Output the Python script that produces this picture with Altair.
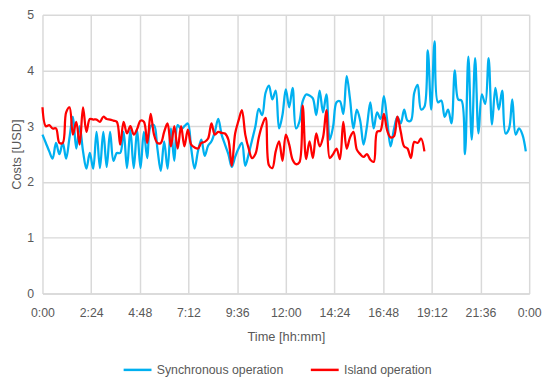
import altair as alt
import pandas as pd

# 10-minute samples, costs in USD
sync_costs = [
    2.85, 2.70, 2.55, 2.42, 2.70, 2.50, 2.70, 2.42, 2.80, 3.17,
    2.60, 3.00, 2.55, 2.24, 2.52, 2.24, 2.90, 2.25, 2.90, 2.27,
    2.90, 2.38, 2.52, 2.52, 2.90, 2.25, 2.93, 2.25, 2.93, 2.25,
    2.90, 2.43, 3.00, 3.02, 2.60, 2.20, 2.73, 2.24, 2.96, 2.38,
    3.02, 2.95, 3.00, 3.05, 2.60, 2.24, 2.55, 2.76, 2.47, 2.65,
    2.73, 2.90, 3.13, 2.85, 2.67, 2.50, 2.27, 2.45, 2.60, 2.70,
    2.29, 2.50, 2.75, 3.00, 3.31, 3.20, 3.60, 3.73, 3.48, 3.64,
    2.96, 3.20, 3.66, 3.34, 3.69, 2.96, 3.08, 3.45, 3.57, 3.55,
    3.50, 3.20, 3.64, 3.25, 3.57, 2.76, 3.00, 3.43, 3.45, 3.22,
    3.90, 3.48, 2.96, 3.30, 3.10, 2.67, 3.00, 3.43, 2.96, 3.25,
    3.13, 3.54, 3.10, 2.64, 2.95, 3.17, 3.05, 3.30, 3.10, 3.10,
    3.60, 3.74, 3.30, 3.35, 4.36, 3.30, 4.52, 3.43, 3.46, 3.17,
    3.30, 3.05, 4.00, 3.48, 3.46, 2.50, 4.25, 2.76, 4.22, 2.87,
    3.57, 3.40, 4.22, 3.03, 3.69, 3.30, 3.64, 2.87, 2.95, 3.48,
    2.85, 2.96, 2.85, 2.55,
]

island_costs = [
    3.34, 3.00, 3.02, 2.96, 2.96, 2.70, 2.70, 3.25, 3.34, 2.85,
    3.08, 2.67, 3.34, 2.90, 3.13, 3.12, 3.12, 3.08, 3.17, 3.13,
    3.12, 3.10, 3.08, 2.67, 3.08, 2.87, 3.00, 2.85, 2.95, 3.10,
    3.08, 2.70, 3.22, 2.85, 2.70, 2.70, 2.90, 3.05, 2.64, 3.00,
    2.60, 3.00, 2.64, 2.94, 2.67, 2.62, 2.60, 2.70, 2.72, 2.78,
    3.05, 2.85, 2.90, 2.88, 2.87, 2.76, 2.29, 2.87, 3.10, 3.29,
    2.85, 2.60, 2.43, 2.50, 2.80, 3.02, 3.15, 2.30, 2.25, 2.55,
    2.73, 2.38, 2.85, 2.67, 2.40, 2.32, 2.35, 3.37, 2.41, 2.73,
    2.43, 2.87, 2.64, 2.80, 3.29, 2.43, 2.50, 2.60, 2.41, 3.08,
    2.60, 2.80, 2.90, 2.58, 2.50, 2.45, 2.50, 2.40, 2.36, 2.90,
    2.92, 3.22, 2.92, 2.80, 2.82, 3.17, 2.90, 2.64, 2.60, 2.43,
    2.72, 2.70, 2.78, 2.55,
]

series_names = ["Synchronous operation", "Island operation"]
series_colors = ["#00b0f0", "#ff0000"]
x_ticks = [0, 144, 288, 432, 576, 720, 864, 1008, 1152, 1296, 1440]
y_ticks = [0, 1, 2, 3, 4, 5]

rows = []
for i, v in enumerate(sync_costs):
    rows.append({"t": i * 10, "cost": v, "series": series_names[0]})
for i, v in enumerate(island_costs):
    rows.append({"t": i * 10, "cost": v, "series": series_names[1]})
df = pd.DataFrame(rows)

label_expr = ("floor(datum.value/60)%24 + ':' + "
              "(datum.value%60 < 10 ? '0' : '') + (datum.value%60)")

x_enc = alt.X("t:Q", scale=alt.Scale(domain=[0, 1440], nice=False),
              axis=alt.Axis(values=x_ticks, labelExpr=label_expr,
                            title="Time [hh:mm]", titlePadding=12,
                            labelPadding=13, labelFlush=False))
y_enc = alt.Y("cost:Q", scale=alt.Scale(domain=[0, 5], nice=False),
              axis=alt.Axis(values=y_ticks, title="Costs [USD]",
                            titlePadding=3, labelPadding=9))
color_enc = alt.Color("series:N",
                      scale=alt.Scale(domain=series_names, range=series_colors),
                      sort=series_names,
                      legend=alt.Legend(title=None, orient="none",
                                        direction="horizontal",
                                        legendX=81, legendY=345,
                                        symbolType="stroke",
                                        symbolSize=800,
                                        symbolStrokeWidth=2.5,
                                        columnPadding=22,
                                        labelFontSize=12.5,
                                        labelColor="#595959",
                                        labelOffset=4))

base = alt.Chart(df).mark_line(strokeWidth=2.3, interpolate="catmull-rom")

sync_layer = base.transform_filter(
    alt.datum.series == series_names[0]
).encode(x=x_enc, y=y_enc, color=color_enc)

island_layer = base.transform_filter(
    alt.datum.series == series_names[1]
).encode(x=x_enc, y=y_enc, color=color_enc)

chart = alt.layer(sync_layer, island_layer).properties(
    width=494, height=283,
    autosize=alt.AutoSizeParams(type="none"),
    padding={"left": 35, "top": 4, "right": 13, "bottom": 88},
).configure(
    font="Liberation Sans",
).configure_view(
    stroke=None,
).configure_axis(
    grid=True, gridColor="#d9d9d9", gridWidth=1.5,
    domain=False, ticks=False,
    labelColor="#595959", labelFontSize=12.5,
    titleColor="#595959", titleFontSize=13, titleFontWeight="normal",
).configure_axisX(
    domain=True, domainColor="#d9d9d9", domainWidth=1.5,
)

chart.save("out.html", embed_options={"renderer": "svg", "actions": False})
